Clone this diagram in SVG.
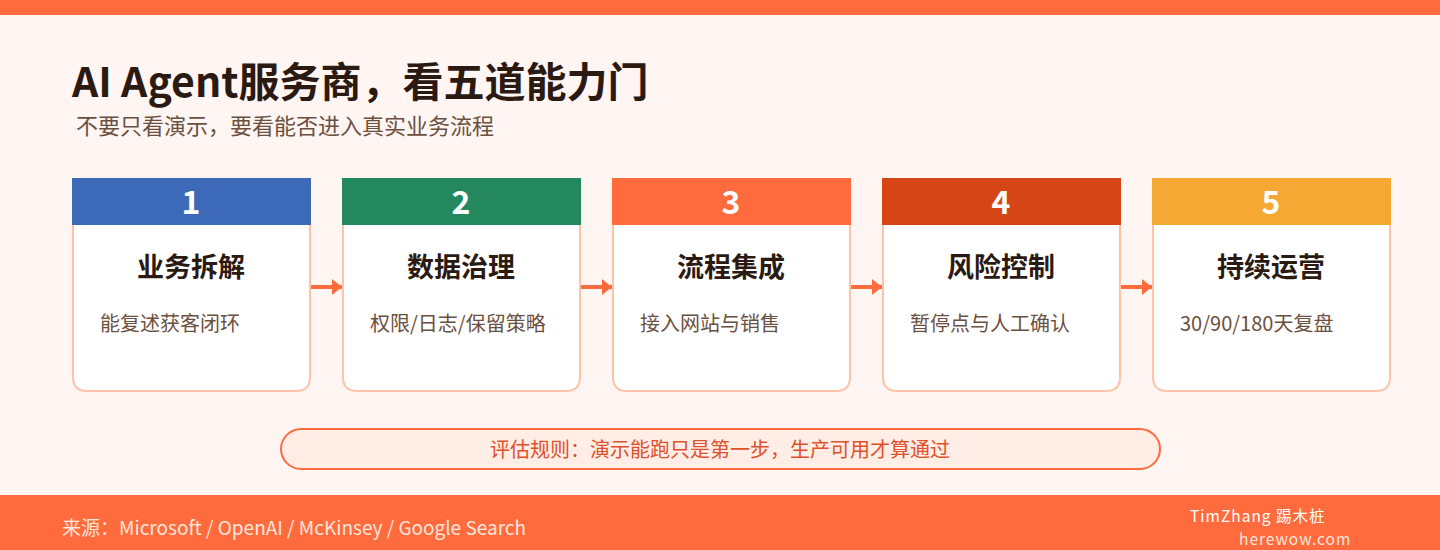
<svg xmlns="http://www.w3.org/2000/svg" width="1440" height="550" viewBox="0 0 1440 550">
<defs>
<style>
text{font-family:"Noto Sans CJK SC","Noto Sans",sans-serif}
.card{fill:#FFFFFF;stroke:#FFC3A8;stroke-width:2}
.num{fill:#FFFFFF;font-size:32px;font-weight:700;text-anchor:middle}
.ttl{fill:#2B1A12;font-size:27px;font-weight:700;text-anchor:middle}
.desc{fill:#6B5040;font-size:20px}
.conn{stroke:#FF6B3D;stroke-width:4;fill:none}
</style>
<marker id="ah" viewBox="0 0 10 16" refX="10" refY="8" markerWidth="2.5" markerHeight="4" markerUnits="strokeWidth" orient="auto"><path d="M0,0 L10,8 L0,16 Z" fill="#FF6B3D"/></marker>
</defs>
<rect width="1440" height="550" fill="#FFF5F2"/>
<rect width="1440" height="15" fill="#FF6B3D"/>
<text x="72" y="97" font-size="41" font-weight="700" fill="#2B1A12">AI Agent服务商，看五道能力门</text>
<text x="76" y="134" font-size="22" fill="#6B5040">不要只看演示，要看能否进入真实业务流程</text>
<g id="connectors">
<line class="conn" x1="311" y1="287" x2="342" y2="287" marker-end="url(#ah)"/>
<line class="conn" x1="581" y1="287" x2="612" y2="287" marker-end="url(#ah)"/>
<line class="conn" x1="851" y1="287" x2="882" y2="287" marker-end="url(#ah)"/>
<line class="conn" x1="1121" y1="287" x2="1152" y2="287" marker-end="url(#ah)"/>
</g>
<g id="node1">
<path class="card" d="M73,179 H310 V377 Q310,391 296,391 H87 Q73,391 73,377 Z"/>
<rect x="72" y="178" width="239" height="47" fill="#3D6AB8"/>
<text class="num" x="191" y="214">1</text>
<text class="ttl" x="191" y="277">业务拆解</text>
<text class="desc" x="100" y="331">能复述获客闭环</text>
</g>
<g id="node2">
<path class="card" d="M343,179 H580 V377 Q580,391 566,391 H357 Q343,391 343,377 Z"/>
<rect x="342" y="178" width="239" height="47" fill="#23885E"/>
<text class="num" x="461" y="214">2</text>
<text class="ttl" x="461" y="277">数据治理</text>
<text class="desc" x="370" y="331">权限/日志/保留策略</text>
</g>
<g id="node3">
<path class="card" d="M613,179 H850 V377 Q850,391 836,391 H627 Q613,391 613,377 Z"/>
<rect x="612" y="178" width="239" height="47" fill="#FF6B3D"/>
<text class="num" x="731" y="214">3</text>
<text class="ttl" x="731" y="277">流程集成</text>
<text class="desc" x="640" y="331">接入网站与销售</text>
</g>
<g id="node4">
<path class="card" d="M883,179 H1120 V377 Q1120,391 1106,391 H897 Q883,391 883,377 Z"/>
<rect x="882" y="178" width="239" height="47" fill="#D64515"/>
<text class="num" x="1001" y="214">4</text>
<text class="ttl" x="1001" y="277">风险控制</text>
<text class="desc" x="910" y="331">暂停点与人工确认</text>
</g>
<g id="node5">
<path class="card" d="M1153,179 H1390 V377 Q1390,391 1376,391 H1167 Q1153,391 1153,377 Z"/>
<rect x="1152" y="178" width="239" height="47" fill="#F5A833"/>
<text class="num" x="1271" y="214">5</text>
<text class="ttl" x="1271" y="277">持续运营</text>
<text class="desc" x="1180" y="331">30/90/180天复盘</text>
</g>
<g id="rule">
<rect x="281" y="429" width="879" height="40" rx="20" fill="#FFEDE6" stroke="#FF6B3D" stroke-width="2"/>
<text x="720" y="457" font-size="20" fill="#E0502A" text-anchor="middle">评估规则：演示能跑只是第一步，生产可用才算通过</text>
</g>
<rect x="0" y="495" width="1440" height="55" fill="#FF6B3D"/>
<text x="62" y="535" font-size="19" fill="#FFE6DC">来源：Microsoft / OpenAI / McKinsey / Google Search</text>
<text x="1190" y="522" font-size="15.5" letter-spacing="1" fill="#FFFFFF">TimZhang 踢木桩</text>
<text x="1239" y="545" font-size="15.5" letter-spacing="1" fill="#FFE6DC">herewow.com</text>
</svg>
